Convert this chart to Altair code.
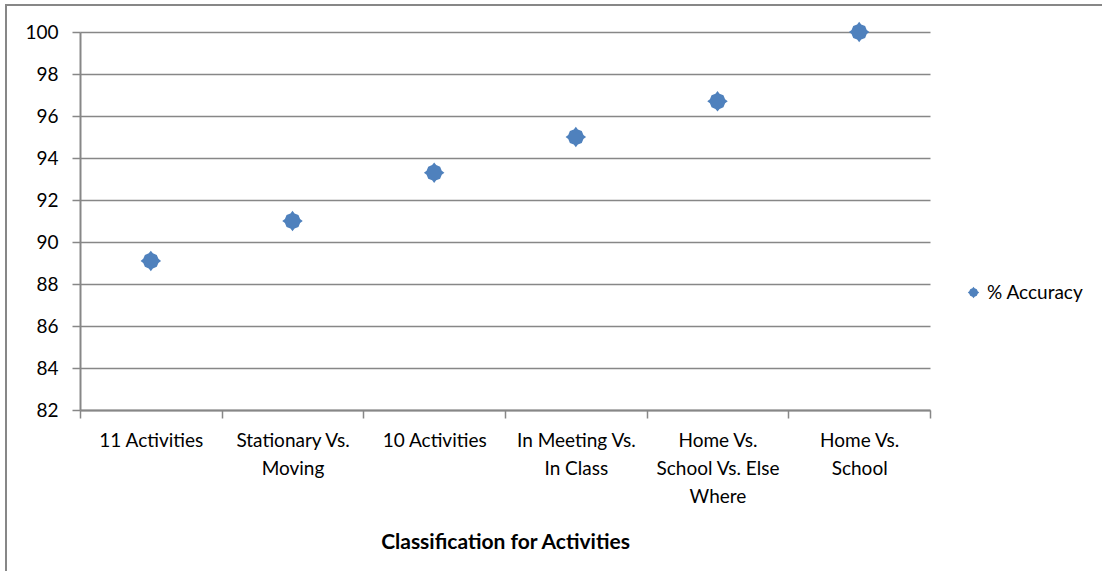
import json
import altair as alt
import pandas as pd

# Classification tasks and the accuracy reached on each
categories = [
    "11 Activities",
    "Stationary Vs. Moving",
    "10 Activities",
    "In Meeting Vs. In Class",
    "Home Vs. School Vs. Else Where",
    "Home Vs. School",
]
accuracy = [89.1, 91.0, 93.3, 95.0, 96.7, 100.0]
series_name = "% Accuracy"

# Axis label lines for each category
label_lines = [
    ["11 Activities"],
    ["Stationary Vs.", "Moving"],
    ["10 Activities"],
    ["In Meeting Vs.", "In Class"],
    ["Home Vs.", "School Vs. Else", "Where"],
    ["Home Vs.", "School"],
]
y_ticks = list(range(82, 101, 2))

df = pd.DataFrame({"category": categories, "accuracy": accuracy, "series": series_name})

FONT = "Lato"
GRAY = "#878787"
BLUE = "#4F81BD"
# diamond marker with slightly rounded shoulders and pointed tips
MARKER = ("M0,-1 L0.2,-0.74 L0.58,-0.58 L0.74,-0.2 L1,0 L0.74,0.2 L0.58,0.58 "
          "L0.2,0.74 L0,1 L-0.2,0.74 L-0.58,0.58 L-0.74,0.2 L-1,0 L-0.74,-0.2 "
          "L-0.58,-0.58 L-0.2,-0.74 Z")

label_expr = json.dumps(dict(zip(categories, label_lines))) + "[datum.value]"

W, H = 850, 378
PAD = {"left": 80, "top": 32, "right": 1102 - 80 - W, "bottom": 571 - 32 - H}

points = alt.Chart(df).mark_point(filled=True, shape=MARKER, size=420, opacity=1).encode(
    x=alt.X(
        "category:N",
        sort=categories,
        scale=alt.Scale(paddingInner=0, paddingOuter=0),
        axis=alt.Axis(
            title="Classification for Activities",
            labelAngle=0,
            labelExpr=label_expr,
            labelLineHeight=28,
            labelPadding=13,
            labelBaseline="top",
            tickBand="extent",
            tickSize=8,
            grid=False,
            titlePadding=25,
        ),
    ),
    y=alt.Y(
        "accuracy:Q",
        scale=alt.Scale(domain=[82, 100], nice=False, zero=False),
        axis=alt.Axis(
            title=None,
            values=y_ticks,
            grid=True,
            tickSize=8,
            labelPadding=14,
        ),
    ),
    color=alt.Color(
        "series:N",
        scale=alt.Scale(domain=[series_name], range=[BLUE]),
        legend=alt.Legend(
            title=None,
            orient="none",
            legendX=884,
            legendY=251,
            symbolType=MARKER,
            symbolSize=130,
            symbolStrokeWidth=0,
            labelFontSize=19,
            labelFont=FONT,
            labelColor="#000000",
            labelOffset=4,
        ),
    ),
)

# chart-area frame
frame = alt.Chart(alt.Data(values=[{}])).mark_rect(
    fill=None, stroke=GRAY, strokeWidth=2
).encode(
    x=alt.value(-74),
    x2=alt.value(1102 - 80 + 20),
    y=alt.value(-27),
    y2=alt.value(571 - 32 + 20),
)

chart = (
    alt.layer(frame, points)
    .properties(
        width=W,
        height=H,
        padding=PAD,
        autosize=alt.AutoSizeParams(type="none"),
        background="white",
    )
    .configure_view(stroke=None)
    .configure_axis(
        labelFont=FONT,
        labelFontSize=19,
        labelColor="#000000",
        titleFont=FONT,
        titleFontSize=21,
        titleFontWeight="bold",
        titleColor="#000000",
        domainColor=GRAY,
        domainWidth=2,
        tickColor=GRAY,
        tickWidth=1.5,
        gridColor=GRAY,
        gridWidth=1.4,
    )
)

chart.save("out.html", embed_options={"renderer": "svg", "actions": False})
